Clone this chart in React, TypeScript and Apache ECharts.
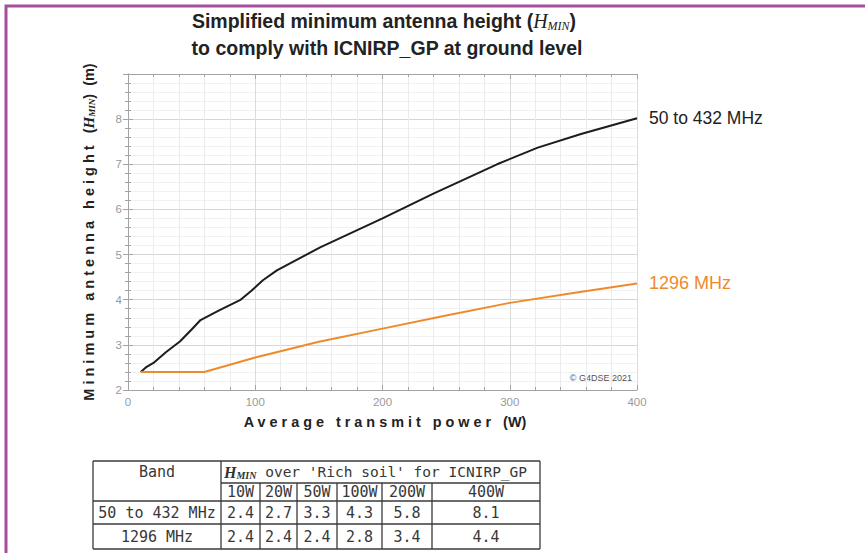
import React, { useEffect, useRef } from 'react';
import * as echarts from 'echarts';

// Curve for the 50 to 432 MHz bands: average power (W) vs minimum height (m)
const power50to432 = [10, 14, 20, 30, 41, 50, 57, 72, 88, 97, 106, 117, 151, 200, 240, 290, 322, 356, 400];
const height50to432 = [2.4, 2.5, 2.6, 2.84, 3.08, 3.34, 3.55, 3.77, 3.99, 4.2, 4.43, 4.65, 5.16, 5.8, 6.35, 7.0, 7.37, 7.67, 8.02];

// Curve for the 1296 MHz band
const power1296 = [10, 60, 80, 100, 150, 200, 250, 300, 350, 400];
const height1296 = [2.4, 2.4, 2.56, 2.72, 3.07, 3.36, 3.65, 3.93, 4.15, 4.36];

// Axis ticks
const xTicks = [0, 100, 200, 300, 400];
const yTickLabels = [2, 3, 4, 5, 6, 7, 8];

// Summary table
const tableBands = ['50 to 432 MHz', '1296 MHz'];
const tablePowers = ['10W', '20W', '50W', '100W', '200W', '400W'];
const table50to432 = ['2.4', '2.7', '3.3', '4.3', '5.8', '8.1'];
const table1296 = ['2.4', '2.4', '2.4', '2.8', '3.4', '4.4'];

const SANS = '"Liberation Sans", Arial, sans-serif';
const MONO = '"DejaVu Sans Mono", "Liberation Mono", monospace';
const SERIF = '"Liberation Serif", "DejaVu Serif", serif';
const BLACK = '#1c1c1c';
const ORANGE = '#ef8a2c';

const spaced = (s: string) => s.split('').join(' ');

function buildTable(): any[] {
  const colX = [93, 221, 260, 297, 337, 382, 432, 540];
  const rowY = [461, 483, 501, 524, 549];
  const stroke = { stroke: '#3a3a3a', lineWidth: 1.3 };
  const els: any[] = [];
  const hline = (x1: number, x2: number, y: number) =>
    els.push({ type: 'line', shape: { x1, y1: y, x2, y2: y }, style: stroke, silent: true });
  const vline = (x: number, y1: number, y2: number) =>
    els.push({ type: 'line', shape: { x1: x, y1, x2: x, y2 }, style: stroke, silent: true });

  hline(colX[0], colX[7], rowY[0]);
  hline(colX[1], colX[7], rowY[1]);
  hline(colX[0], colX[7], rowY[2]);
  hline(colX[0], colX[7], rowY[3]);
  hline(colX[0], colX[7], rowY[4]);
  vline(colX[0], rowY[0], rowY[4]);
  vline(colX[1], rowY[0], rowY[4]);
  vline(colX[7], rowY[0], rowY[4]);
  for (let i = 2; i < 7; i++) vline(colX[i], rowY[1], rowY[4]);

  const cellText = (text: string, x: number, y: number, align = 'center', rich?: any, fontSize = 15) =>
    els.push({
      type: 'text',
      x,
      y,
      silent: true,
      style: {
        text,
        align,
        verticalAlign: 'middle',
        fontFamily: MONO,
        fontSize,
        fill: '#383838',
        rich,
      },
    });

  const mid = (a: number, b: number) => (a + b) / 2;
  cellText('Band', mid(colX[0], colX[1]), mid(rowY[0], rowY[1]));
  cellText(
    "{h|H}{s|MIN} over 'Rich soil' for ICNIRP_GP",
    224,
    mid(rowY[0], rowY[1]),
    'left',
    {
      h: { fontFamily: SERIF, fontStyle: 'italic', fontWeight: 'bold', fontSize: 16, fill: '#333' },
      s: { fontFamily: SERIF, fontStyle: 'italic', fontWeight: 'bold', fontSize: 10, fill: '#333', padding: [6, 0, 0, 0] },
    },
    14.5
  );
  tablePowers.forEach((p, i) => cellText(p, mid(colX[i + 1], colX[i + 2]), mid(rowY[1], rowY[2])));
  cellText(tableBands[0], mid(colX[0], colX[1]), mid(rowY[2], rowY[3]));
  cellText(tableBands[1], mid(colX[0], colX[1]), mid(rowY[3], rowY[4]));
  table50to432.forEach((v, i) => cellText(v, mid(colX[i + 1], colX[i + 2]), mid(rowY[2], rowY[3])));
  table1296.forEach((v, i) => cellText(v, mid(colX[i + 1], colX[i + 2]), mid(rowY[3], rowY[4])));
  return els;
}

export default function App() {
  const ref = useRef<HTMLDivElement>(null);

  useEffect(() => {
    if (!ref.current) return;
    const chart = echarts.init(ref.current, undefined, { renderer: 'svg' });

    const axisGray = '#a3a3a3';
    const tickCommon = {
      axisLine: { show: true, lineStyle: { color: axisGray, width: 1 } },
      axisTick: { show: true, inside: true, length: 5, lineStyle: { color: axisGray } },
      minorTick: { show: true, splitNumber: 5, length: 3, lineStyle: { color: axisGray } },
    };

    const titleRich = {
      h: { fontFamily: SERIF, fontStyle: 'italic', fontSize: 20, fill: '#222' },
      s: { fontFamily: SERIF, fontStyle: 'italic', fontSize: 12, fill: '#222', padding: [9, 0, 0, 0] },
    };
    const labelRich = {
      h: { fontFamily: SERIF, fontStyle: 'italic', fontWeight: 'bold', fontSize: 15, fill: '#222' },
      s: { fontFamily: SERIF, fontStyle: 'italic', fontWeight: 'bold', fontSize: 9, fill: '#222', padding: [6, 0, 0, 0] },
    };

    chart.setOption({
      animation: false,
      backgroundColor: '#ffffff',
      grid: { left: 128, right: 228, top: 74, bottom: 163, containLabel: false },
      xAxis: [
        {
          type: 'value',
          min: xTicks[0],
          max: xTicks[xTicks.length - 1],
          interval: 100,
          ...tickCommon,
          axisLabel: { color: '#9a9a9a', fontSize: 11.5, fontFamily: SANS, margin: 6 },
          splitLine: { show: true, lineStyle: { color: '#dcdcdc', width: 1 } },
          minorSplitLine: { show: true, lineStyle: { color: '#ececec', width: 1 } },
        },
        {
          type: 'value',
          position: 'top',
          min: xTicks[0],
          max: xTicks[xTicks.length - 1],
          interval: 100,
          ...tickCommon,
          axisLabel: { show: false },
          splitLine: { show: false },
        },
      ],
      yAxis: [
        {
          type: 'value',
          min: 2,
          max: 9,
          interval: 1,
          ...tickCommon,
          axisLabel: {
            color: '#9a9a9a',
            fontSize: 11.5,
            fontFamily: SANS,
            margin: 6,
            formatter: (v: number) => (yTickLabels.includes(v) ? String(v) : ''),
          },
          splitLine: { show: true, lineStyle: { color: '#d6d6d6', width: 1 } },
          minorSplitLine: { show: true, lineStyle: { color: '#f1f1f1', width: 1 } },
        },
        {
          type: 'value',
          position: 'right',
          min: 2,
          max: 9,
          interval: 1,
          ...tickCommon,
          axisLabel: { show: false },
          splitLine: { show: false },
        },
      ],
      series: [
        {
          type: 'line',
          name: '50 to 432 MHz',
          data: power50to432.map((p, i) => [p, height50to432[i]]),
          showSymbol: false,
          lineStyle: { color: BLACK, width: 2 },
          itemStyle: { color: BLACK },
          endLabel: {
            show: true,
            formatter: '50 to 432 MHz',
            color: '#222',
            fontSize: 17.5,
            fontFamily: SANS,
            distance: 12,
          },
        },
        {
          type: 'line',
          name: '1296 MHz',
          data: power1296.map((p, i) => [p, height1296[i]]),
          showSymbol: false,
          lineStyle: { color: ORANGE, width: 2 },
          itemStyle: { color: ORANGE },
          endLabel: {
            show: true,
            formatter: '1296 MHz',
            color: ORANGE,
            fontSize: 18,
            fontFamily: SANS,
            distance: 12,
          },
        },
      ],
      graphic: [
        // page frame
        {
          type: 'polyline',
          silent: true,
          shape: { points: [[6, 553], [6, 6], [865, 6]] },
          style: { stroke: '#a6509d', lineWidth: 3, fill: 'none' },
        },
        // title
        {
          type: 'text',
          x: 384,
          y: 21,
          silent: true,
          style: {
            text: 'Simplified minimum antenna height ({h|H}{s|MIN})',
            align: 'center',
            verticalAlign: 'middle',
            fontFamily: SANS,
            fontWeight: 'bold',
            fontSize: 19.5,
            fill: '#222',
            rich: titleRich,
          },
        },
        {
          type: 'text',
          x: 387,
          y: 48,
          silent: true,
          style: {
            text: 'to comply with ICNIRP_GP at ground level',
            align: 'center',
            verticalAlign: 'middle',
            fontFamily: SANS,
            fontWeight: 'bold',
            fontSize: 19.5,
            fill: '#222',
          },
        },
        // y axis title
        {
          type: 'text',
          x: 89,
          y: 232,
          rotation: Math.PI / 2,
          silent: true,
          style: {
            text:
              spaced('Minimum') + '   ' + spaced('antenna') + '   ' + spaced('height') + '   ({h|H}{s|MIN})  (m)',
            align: 'center',
            verticalAlign: 'middle',
            fontFamily: SANS,
            fontWeight: 'bold',
            fontSize: 14.5,
            fill: '#222',
            rich: labelRich,
          },
        },
        // x axis title
        {
          type: 'text',
          x: 385,
          y: 422,
          silent: true,
          style: {
            text: spaced('Average') + '   ' + spaced('transmit') + '   ' + spaced('power') + '   (W)',
            align: 'center',
            verticalAlign: 'middle',
            fontFamily: SANS,
            fontWeight: 'bold',
            fontSize: 14.4,
            fill: '#222',
          },
        },
        // copyright
        {
          type: 'text',
          x: 632,
          y: 378,
          silent: true,
          style: {
            text: '© G4DSE 2021',
            align: 'right',
            verticalAlign: 'middle',
            fontFamily: SANS,
            fontSize: 9,
            fill: '#555',
          },
        },
        ...buildTable(),
      ],
    });

    return () => chart.dispose();
  }, []);

  return (
    <div
      ref={ref}
      style={{ position: 'absolute', left: 0, top: 0, width: 865, height: 553, background: '#fff' }}
    />
  );
}
